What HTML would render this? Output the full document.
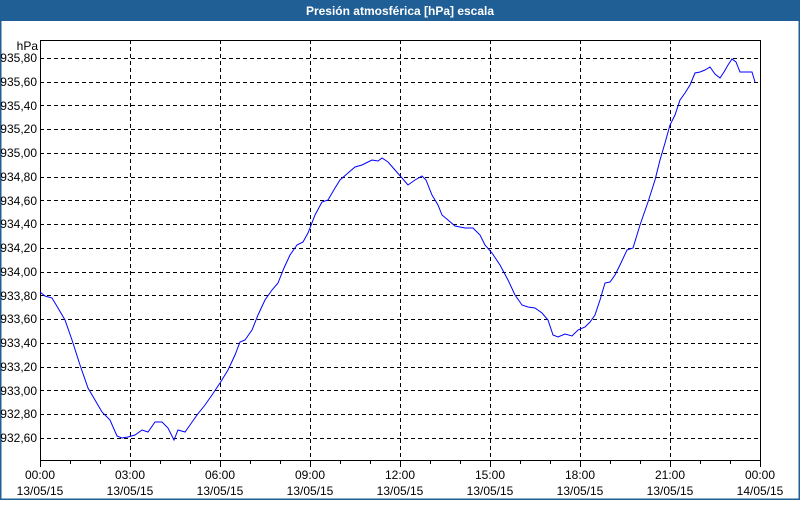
<!DOCTYPE html>
<html><head><meta charset="utf-8"><style>
html,body{margin:0;padding:0;background:#fff;}
body{width:800px;height:500px;overflow:hidden;}
</style></head><body>
<svg width="800" height="500" xmlns="http://www.w3.org/2000/svg" font-family="Liberation Sans, sans-serif" font-size="12">
<rect x="0" y="0" width="800" height="500" fill="#fff"/>
<rect x="0.5" y="0.5" width="799" height="499" fill="none" stroke="#1f5f96" stroke-width="2"/>
<rect x="0" y="0" width="800" height="21" fill="#1f5f96"/>
<text x="400" y="15" fill="#fff" font-weight="bold" text-anchor="middle">Presión atmosférica [hPa] escala</text>
<g stroke="#000" stroke-dasharray="4,3" stroke-width="1">
<path d="M40 58.5H760M40 82.5H760M40 105.5H760M40 129.5H760M40 153.5H760M40 177.5H760M40 200.5H760M40 224.5H760M40 248.5H760M40 272.5H760M40 295.5H760M40 319.5H760M40 343.5H760M40 367.5H760M40 390.5H760M40 414.5H760M40 438.5H760"/>
<path d="M130.5 40V460M220.5 40V460M310.5 40V460M400.5 40V460M490.5 40V460M580.5 40V460M670.5 40V460"/>
</g>
<rect x="40.5" y="40.5" width="720" height="420" fill="none" stroke="#000"/>
<g stroke="#000"><path d="M40.5 460V467M70.5 460V464M100.5 460V464M130.5 460V467M160.5 460V464M190.5 460V464M220.5 460V467M250.5 460V464M280.5 460V464M310.5 460V467M340.5 460V464M370.5 460V464M400.5 460V467M430.5 460V464M460.5 460V464M490.5 460V467M520.5 460V464M550.5 460V464M580.5 460V467M610.5 460V464M640.5 460V464M670.5 460V467M700.5 460V464M730.5 460V464M760.5 460V467"/></g>
<g text-anchor="end" fill="#000">
<text x="38" y="50">hPa</text>
<text x="37" y="62">935,80</text><text x="37" y="86">935,60</text><text x="37" y="110">935,40</text><text x="37" y="133">935,20</text><text x="37" y="157">935,00</text><text x="37" y="181">934,80</text><text x="37" y="205">934,60</text><text x="37" y="228">934,40</text><text x="37" y="252">934,20</text><text x="37" y="276">934,00</text><text x="37" y="300">933,80</text><text x="37" y="323">933,60</text><text x="37" y="347">933,40</text><text x="37" y="371">933,20</text><text x="37" y="395">933,00</text><text x="37" y="418">932,80</text><text x="37" y="442">932,60</text>
</g>
<g text-anchor="middle" fill="#000">
<text x="40" y="479">00:00</text><text x="40" y="495">13/05/15</text>
<text x="130" y="479">03:00</text><text x="130" y="495">13/05/15</text>
<text x="220" y="479">06:00</text><text x="220" y="495">13/05/15</text>
<text x="310" y="479">09:00</text><text x="310" y="495">13/05/15</text>
<text x="400" y="479">12:00</text><text x="400" y="495">13/05/15</text>
<text x="490" y="479">15:00</text><text x="490" y="495">13/05/15</text>
<text x="580" y="479">18:00</text><text x="580" y="495">13/05/15</text>
<text x="670" y="479">21:00</text><text x="670" y="495">13/05/15</text>
<text x="760" y="479">00:00</text><text x="760" y="495">14/05/15</text>
</g>
<polyline fill="none" stroke="#0000ff" stroke-width="1" points="40,292 45,296 52,298 58,308 65,320 72,340 80,365 88,388 95,400 102,412 110,420 117,436 122,438 128,437 135,435 142,430 148,432 155,422 162,422 168,428 174,440 178,430 185,432 190,425 197,415 205,405 212,395 220,383 228,370 235,355 240,342 245,340 252,330 258,315 265,300 272,290 278,283 284,268 290,255 297,245 303,242 308,233 315,215 322,202 328,200 335,188 340,180 348,173 355,167 362,165 368,162 372,160 378,161 382,158 388,162 395,170 402,178 408,185 415,180 422,176 426,180 432,195 438,205 442,215 448,220 455,226 465,228 473,228 480,235 485,245 492,253 500,265 508,280 515,295 522,305 528,307 535,308 542,313 548,320 553,335 558,337 565,334 572,336 578,330 585,327 590,322 595,315 600,300 605,283 610,282 615,275 620,265 627,250 633,248 640,225 648,202 655,180 660,160 665,143 670,125 675,115 680,100 685,93 690,85 695,73 700,72 705,70 710,67 715,74 720,78 724,72 728,65 732,59 736,62 740,72 748,72 752,72 755,82"/>
</svg>
</body></html>
